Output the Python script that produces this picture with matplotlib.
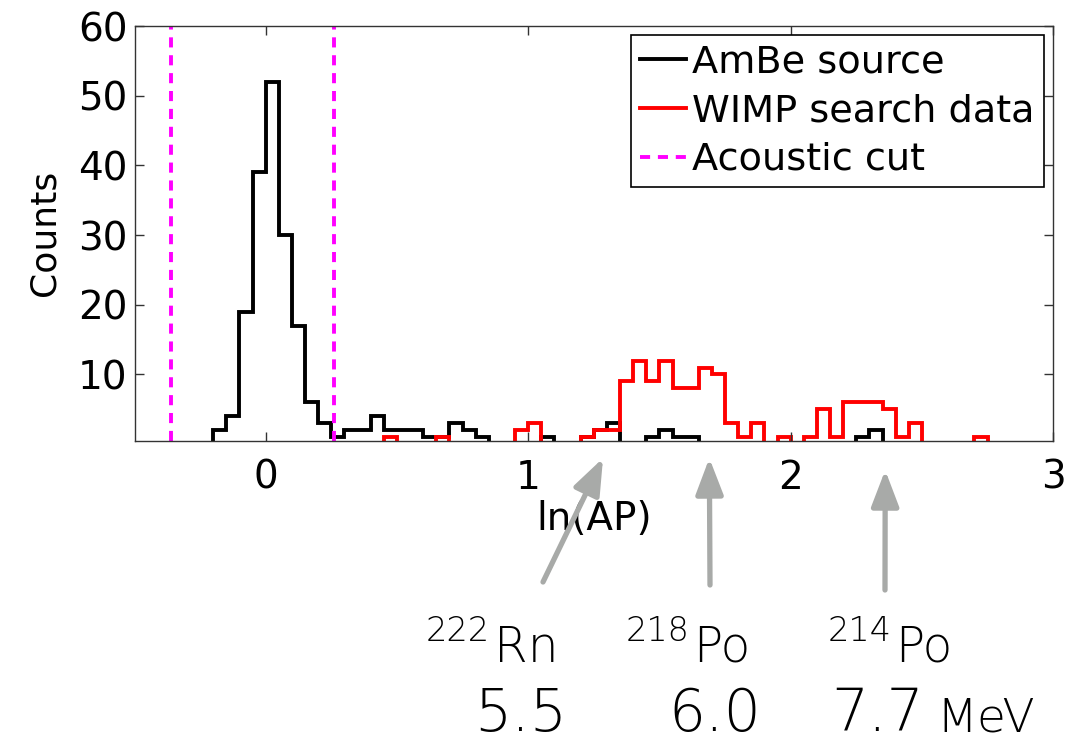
import numpy as np
import matplotlib
matplotlib.use("Agg")
import matplotlib.pyplot as plt

plt.rcParams['font.family'] = ['DejaVu Sans']

# histogram bins in ln(AP), width 0.05 from -0.5 to 3.0
bin_edges = np.linspace(-0.5, 3.0, 71)

# AmBe source counts, one value per bin
ambe_counts = [0, 0, 0, 0, 0, 0,
               2, 4, 19, 39, 52, 30, 17, 6, 3, 1,
               2, 2, 4, 2, 2, 2, 1, 1, 3, 2, 1,
               0, 0, 0, 0, 1, 0, 0, 1, 2, 3, 0, 0,
               1, 2, 1, 1,
               0, 0, 0, 0, 0, 0, 0, 0, 0, 0, 0, 0,
               1, 2,
               0, 0, 0, 0, 0, 0, 0, 0, 0, 0, 0, 0, 0]

# WIMP search data counts
wimp_counts = [0, 0, 0, 0, 0, 0, 0, 0, 0, 0, 0, 0, 0, 0, 0, 0, 0, 0, 0,
               1, 0, 0, 0, 1, 0, 0, 0, 0, 0,
               2, 3, 0, 0, 0,
               1, 2, 2, 9, 12, 9, 12, 8, 8, 11, 10, 3, 1, 3, 0, 1, 0,
               1, 5, 1, 6, 6, 6, 5, 1, 3,
               0, 0, 0, 0, 1, 0, 0, 0, 0, 0]

acoustic_cut = [-0.36, 0.26]

# alpha peaks (arrow targets in ln(AP)) and their labels
peak_x = [1.285, 1.69, 2.36]
peak_mass = ['222', '218', '214']
peak_elem = ['Rn', 'Po', 'Po']
peak_energy = ['5.5', '6.0', '7.7']

W, H = 1085, 743
fig = plt.figure(figsize=(W / 100, H / 100), dpi=100)
ax = fig.add_axes([134.5 / W, 1 - 440.7 / H, 918.7 / W, 414.7 / H])

ax.stairs(ambe_counts, bin_edges, color='black', lw=2.8, label='AmBe source')
ax.stairs(wimp_counts, bin_edges, color='red', lw=2.8, label='WIMP search data')
for i, xc in enumerate(acoustic_cut):
    ax.axvline(xc, color='magenta', lw=2.8, dashes=(2.6, 2.0),
               label='Acoustic cut' if i == 0 else None)

ax.set_xlim(-0.5, 3)
ax.set_ylim(0.5, 60)
ax.set_xticks([0, 1, 2, 3])
ax.set_yticks([10, 20, 30, 40, 50, 60])
ax.tick_params(direction='in', top=True, right=True, length=6.5, width=1,
               labelsize=28, colors='#333333', labelcolor='black')
ax.tick_params(axis='x', pad=13)
ax.tick_params(axis='y', pad=5)
for sp in ax.spines.values():
    sp.set_color('#333333')
    sp.set_linewidth(1)

ax.set_xlabel('ln(AP)', fontsize=28, labelpad=2)
ax.set_ylabel('Counts', fontsize=26, labelpad=12)

leg = ax.legend(loc='upper right', bbox_to_anchor=(0.990, 0.978),
                borderaxespad=0, fontsize=27.5, handlelength=1.2,
                handletextpad=0.15, labelspacing=0.33, borderpad=0.25,
                fancybox=False, framealpha=1, edgecolor='black')
leg.get_frame().set_linewidth(1.2)

# arrows pointing at the alpha peaks
grey = '#a8aaa8'
tails = [(543, 161), (710, 158), (885, 153)]
tip_y = [-0.042, -0.042, -0.071]
for xp, ty, tail in zip(peak_x, tip_y, tails):
    ax.annotate('', xy=(xp, ty), xycoords=('data', 'axes fraction'),
                xytext=tail, textcoords='figure pixels',
                annotation_clip=False,
                arrowprops=dict(arrowstyle='-|>,head_length=1.1,head_width=0.42',
                                mutation_scale=20, lw=3.8, color=grey,
                                shrinkA=0, shrinkB=0))

# isotope and energy labels
lf = dict(family='DejaVu Sans', weight='light', color='black')
elem_x = [494, 693, 895]
for ex, m, e in zip(elem_x, peak_mass, peak_elem):
    fig.text((ex - 4) / W, 1 - 641 / H, m, fontsize=24, ha='right', va='baseline', **lf)
    fig.text(ex / W, 1 - 662 / H, e, fontsize=35, ha='left', va='baseline', **lf)
energy_x = [474, 668, 831]
for ex, en in zip(energy_x, peak_energy):
    fig.text(ex / W, 1 - 731 / H, en, fontsize=42, ha='left', va='baseline', **lf)
fig.text(936 / W, 1 - 731 / H, 'MeV', fontsize=34, ha='left', va='baseline', **lf)

plt.savefig('out.png', dpi=100)
